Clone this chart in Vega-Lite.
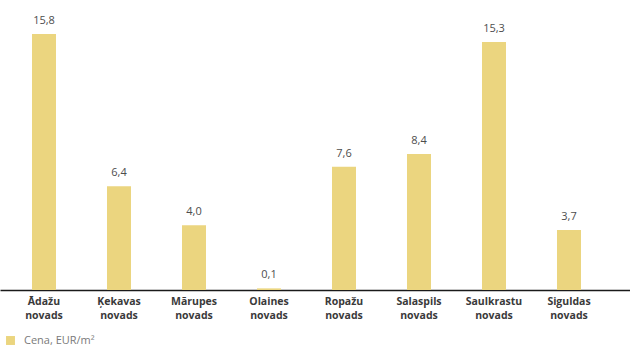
{
  "$schema": "https://vega.github.io/schema/vega-lite/v6.json",
  "width": 630,
  "height": 290,
  "autosize": {"type": "none"},
  "padding": {"top": 0, "left": 0, "right": 0, "bottom": 59},
  "background": "#ffffff",
  "config": {
    "view": {"stroke": null},
    "font": "Open Sans"
  },
  "data": {
    "values": [
      {"novads": "Ādažu novads", "cena": 15.8, "label": "15,8", "series": "Cena, EUR/m²"},
      {"novads": "Ķekavas novads", "cena": 6.4, "label": "6,4", "series": "Cena, EUR/m²"},
      {"novads": "Mārupes novads", "cena": 4.0, "label": "4,0", "series": "Cena, EUR/m²"},
      {"novads": "Olaines novads", "cena": 0.1, "label": "0,1", "series": "Cena, EUR/m²"},
      {"novads": "Ropažu novads", "cena": 7.6, "label": "7,6", "series": "Cena, EUR/m²"},
      {"novads": "Salaspils novads", "cena": 8.4, "label": "8,4", "series": "Cena, EUR/m²"},
      {"novads": "Saulkrastu novads", "cena": 15.3, "label": "15,3", "series": "Cena, EUR/m²"},
      {"novads": "Siguldas novads", "cena": 3.7, "label": "3,7", "series": "Cena, EUR/m²"}
    ]
  },
  "encoding": {
    "x": {
      "field": "novads",
      "type": "nominal",
      "sort": null,
      "scale": {"paddingInner": 0.68, "paddingOuter": 0.54, "align": 0.395},
      "axis": {
        "title": null,
        "labelAngle": 0,
        "labelExpr": "split(datum.label, ' ')",
        "labelFont": "Open Sans",
        "labelFontWeight": "bold",
        "labelFontSize": 10.5,
        "labelColor": "#3a3a3a",
        "labelLineHeight": 14,
        "labelPadding": 6,
        "labelOverlap": false,
        "ticks": false,
        "domainColor": "#1a1a1a",
        "domainWidth": 1.5
      }
    },
    "y": {
      "field": "cena",
      "type": "quantitative",
      "scale": {"domain": [0, 17.9], "nice": false},
      "axis": null
    }
  },
  "layer": [
    {
      "mark": {"type": "bar"},
      "encoding": {
        "color": {
          "field": "series",
          "type": "nominal",
          "scale": {"range": ["#ebd57f"]},
          "legend": {
            "title": null,
            "orient": "none",
            "legendX": 5,
            "legendY": 335,
            "symbolType": "square",
            "symbolSize": 80,
            "symbolStrokeWidth": 0,
            "labelFont": "Open Sans",
            "labelFontSize": 11,
            "labelColor": "#7a7a7a",
            "labelOffset": 8
          }
        }
      }
    },
    {
      "mark": {
        "type": "text",
        "baseline": "bottom",
        "dy": -8,
        "fontSize": 11,
        "font": "Open Sans",
        "color": "#4d4d4d"
      },
      "encoding": {
        "text": {"field": "label"}
      }
    }
  ]
}
